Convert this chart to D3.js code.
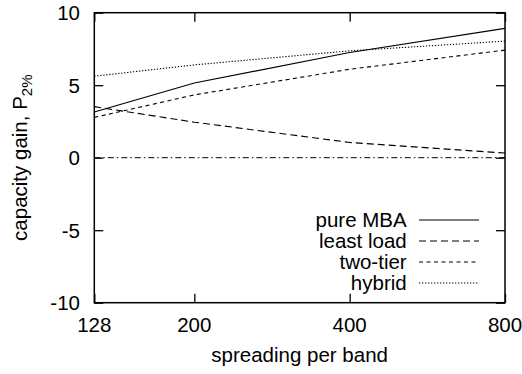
<!DOCTYPE html>
<html>
<head>
<meta charset="utf-8">
<script src="https://cdn.jsdelivr.net/npm/d3@7/dist/d3.min.js"></script>
<style>
  html, body { margin: 0; padding: 0; background: #fff; }
  svg { display: block; }
  text { font-family: "Liberation Sans", Arial, Helvetica, sans-serif; fill: #000; }
</style>
</head>
<body>
<svg id="chart" width="522" height="374"></svg>
<script>
const spreading = [128, 200, 400, 800];
const xTicks = [128, 200, 400, 800];
const yTicks = [-10, -5, 0, 5, 10];
const pureMBA   = [3.15, 5.15, 7.25, 8.92];
const leastLoad = [3.52, 2.45, 1.05, 0.32];
const twoTier   = [2.78, 4.33, 6.10, 7.42];
const hybrid    = [5.62, 6.40, 7.37, 8.04];
const baseline  = [0, 0, 0, 0];
const seriesNames = ["pure MBA", "least load", "two-tier", "hybrid"];

const svg = d3.select("#chart");
const L = 94.3, R = 505, T = 12.7, B = 302.7;
const x = d3.scaleLog().domain([128, 800]).range([L, R]);
const y = d3.scaleLinear().domain([-10, 10]).range([B, T]);
const FS = 20.5;

const styles = [
  { vals: pureMBA,   dash: null,      w: 1.1 },
  { vals: leastLoad, dash: "7,4",     w: 1.1 },
  { vals: twoTier,   dash: "4,3.5",   w: 1.1 },
  { vals: hybrid,    dash: "1.3,1.7", w: 1.1 }
];

const line = d3.line().x((d, i) => x(spreading[i])).y(d => y(d));
svg.append("path").datum(baseline).attr("d", line)
  .attr("fill", "none").attr("stroke", "#000").attr("stroke-width", 1)
  .attr("stroke-dasharray", "6,3,1.5,3");

styles.forEach(s => {
  svg.append("path").datum(s.vals).attr("d", line)
    .attr("fill", "none").attr("stroke", "#000").attr("stroke-width", s.w)
    .attr("stroke-dasharray", s.dash);
});

const tk = 9;
const axB = svg.append("g").attr("transform", `translate(0,${B})`)
  .call(d3.axisBottom(x).tickValues(xTicks).tickSize(-tk).tickFormat(""));
const axT = svg.append("g").attr("transform", `translate(0,${T})`)
  .call(d3.axisTop(x).tickValues(xTicks).tickSize(-tk).tickFormat(""));
const axL = svg.append("g").attr("transform", `translate(${L},0)`)
  .call(d3.axisLeft(y).tickValues(yTicks).tickSize(-tk).tickFormat(""));
const axR = svg.append("g").attr("transform", `translate(${R},0)`)
  .call(d3.axisRight(y).tickValues(yTicks).tickSize(-tk).tickFormat(""));
[axB, axT, axL, axR].forEach(a => {
  a.select(".domain").remove();
  a.selectAll("line").attr("stroke", "#000").attr("stroke-width", 1.3);
});

svg.append("rect").attr("x", L).attr("y", T).attr("width", R - L).attr("height", B - T)
  .attr("fill", "none").attr("stroke", "#000").attr("stroke-width", 1.5);

svg.append("g").selectAll("text").data(xTicks).join("text")
  .attr("x", d => x(d)).attr("y", 332).attr("text-anchor", "middle")
  .attr("font-size", FS).text(d => d);
svg.append("g").selectAll("text").data(yTicks).join("text")
  .attr("x", 80).attr("y", d => y(d)).attr("dy", "0.36em").attr("text-anchor", "end")
  .attr("font-size", FS).text(d => d);

svg.append("text").attr("x", (L + R) / 2).attr("y", 362).attr("text-anchor", "middle")
  .attr("font-size", FS).text("spreading per band");
const yl = svg.append("text").attr("transform", `translate(27,${(T + B) / 2}) rotate(-90)`)
  .attr("text-anchor", "middle").attr("font-size", FS);
yl.append("tspan").text("capacity gain, P");
yl.append("tspan").attr("font-size", 15).attr("dy", 5).text("2%");

const legY = [220, 241, 262, 283];
seriesNames.forEach((n, i) => {
  svg.append("text").attr("x", 406.7).attr("y", legY[i]).attr("dy", "0.36em")
    .attr("text-anchor", "end").attr("font-size", FS).text(n);
  svg.append("line").attr("x1", 419).attr("x2", 479).attr("y1", legY[i]).attr("y2", legY[i])
    .attr("stroke", "#000").attr("stroke-width", styles[i].w)
    .attr("stroke-dasharray", styles[i].dash);
});
</script>
</body>
</html>
